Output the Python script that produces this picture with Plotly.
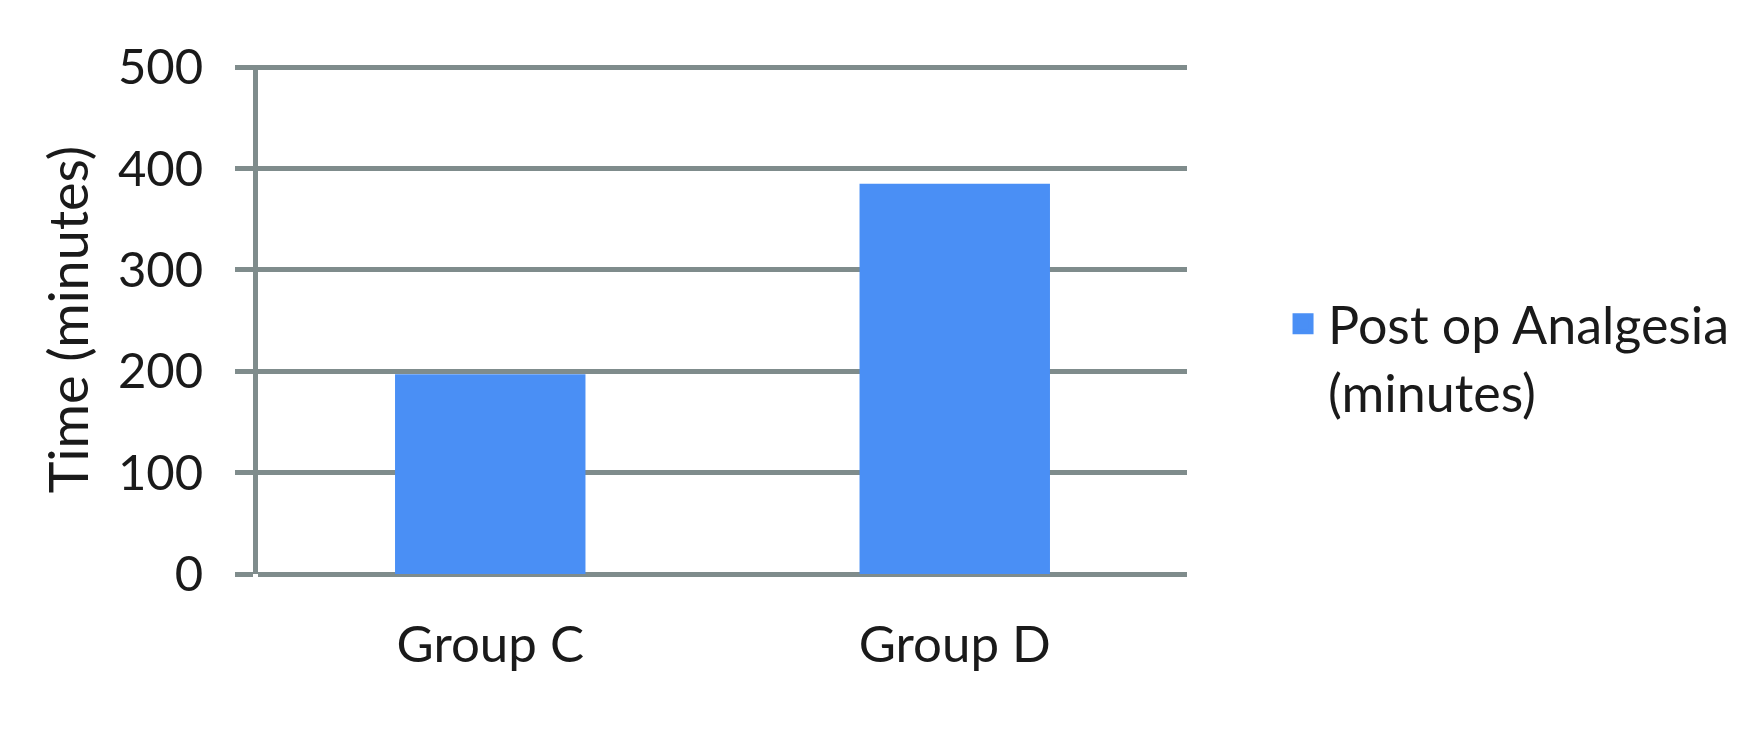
import plotly.graph_objects as go

categories = ["Group C", "Group D"]
values = [197, 385]
series_name = "Post op Analgesia<br>(minutes)"
y_ticks = [0, 100, 200, 300, 400, 500]

grid_color = "#7f8c8c"
bar_color = "#4a8ff5"
font_family = "Lato, 'Open Sans', sans-serif"

fig = go.Figure()
fig.add_trace(go.Bar(
    x=categories, y=values, name=series_name,
    marker=dict(color=bar_color, line=dict(width=0)),
    width=0.41, showlegend=False,
))
# legend entry with a larger square swatch
fig.add_trace(go.Scatter(
    x=[None], y=[None], mode="markers", name=series_name,
    marker=dict(symbol="square", size=29, color=bar_color,
                line=dict(width=10, color=bar_color)),
    showlegend=True,
))

fig.update_layout(
    width=1746, height=734,
    paper_bgcolor="white", plot_bgcolor="white",
    margin=dict(l=250, r=567, t=57, b=168, autoexpand=False),
    font=dict(family=font_family, size=51, color="#1a1a1a"),
    showlegend=True,
    legend=dict(
        x=1.098, y=0.571, xanchor="left", yanchor="top",
        font=dict(size=52), valign="top",
        bgcolor="rgba(0,0,0,0)", itemwidth=40,
    ),
    xaxis=dict(
        showgrid=False, showline=False, zeroline=False,
        ticks="", tickfont=dict(size=51), automargin=False,
        ticklabelstandoff=36,
    ),
    yaxis=dict(
        range=[0, 502], tickvals=y_ticks, automargin=False,
        showgrid=True, gridcolor=grid_color, gridwidth=5,
        showline=True, linecolor=grid_color, linewidth=5,
        zeroline=True, zerolinecolor=grid_color, zerolinewidth=5,
        ticks="outside", ticklen=18, tickwidth=5, tickcolor=grid_color,
        tickfont=dict(size=49), ticklabelstandoff=22,
        title=dict(text="Time (minutes)", font=dict(size=54), standoff=14),
    ),
)

fig.write_html("out.html")
